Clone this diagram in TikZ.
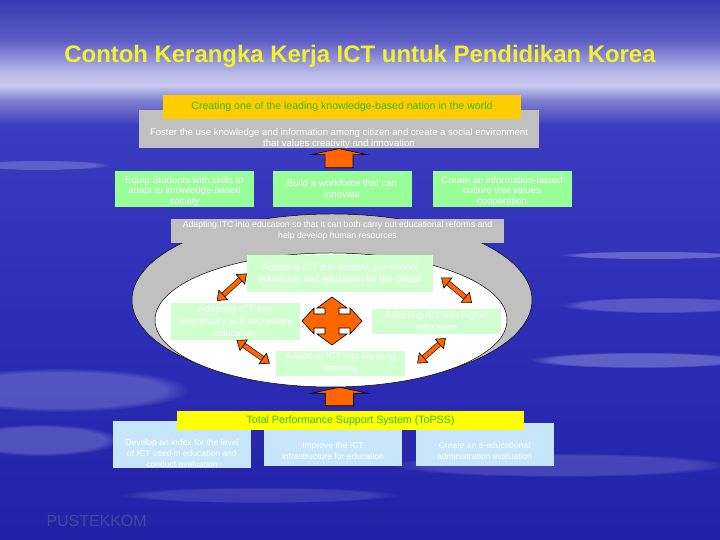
\documentclass[tikz,border=0pt]{standalone}
\usepackage{fontspec}
\setmainfont{Liberation Sans}
\usepackage{xcolor}
\usepackage{tikz}
\usetikzlibrary{calc,arrows.meta,shapes.geometric,fadings}
\definecolor{sun}{HTML}{F2F230}
\definecolor{amber}{HTML}{FFCC00}
\definecolor{lemon}{HTML}{FFFF00}
\definecolor{leaf}{HTML}{2EBE2E}
\definecolor{silver}{HTML}{C0C0C0}
\definecolor{mint}{HTML}{99FF99}
\definecolor{pale}{HTML}{D0FFD0}
\definecolor{ice}{HTML}{C8E6FA}
\definecolor{flame}{HTML}{FF6600}
\definecolor{ink}{HTML}{46469E}
\pgfdeclareverticalshading{sky}{100bp}{rgb(0bp)=(0.13,0.13,0.66); rgb(25bp)=(0.13,0.13,0.66);
  rgb(47bp)=(0.18,0.18,0.72); rgb(63.4bp)=(0.235,0.235,0.75); rgb(65.7bp)=(0.5,0.5,0.82);
  rgb(67.1bp)=(0.79,0.79,0.94); rgb(68.3bp)=(0.72,0.72,0.91); rgb(71.3bp)=(0.36,0.36,0.77);
  rgb(75bp)=(0.227,0.227,0.71); rgb(100bp)=(0.227,0.227,0.71)}
\newcommand\sink[1]{\rule{0pt}{#1bp}}
\newcommand\uparr[2]{%
  \draw[blk] let \p1=(#1), \p2=(#2) in
    (\x1-14pt,\y1) -- (\x1-14pt,\y2-6pt) -- (\x1-28pt,\y2-6pt) -- (\x1,\y2)
    -- (\x1+28pt,\y2-6pt) -- (\x1+14pt,\y2-6pt) -- (\x1+14pt,\y1) -- cycle;}
\tikzset{
  title/.style={text=sun, font=\fontsize{24}{28}\selectfont\bfseries},
  goal/.style={fill=amber, text=leaf, minimum width=358bp, minimum height=24bp, inner sep=0pt, font=\fontsize{10.6}{12}\selectfont},
  band/.style={fill=silver, text=white, align=center, inner sep=0pt, font=\fontsize{9.6}{11}\selectfont},
  aim/.style={fill=mint, text=white, align=center, minimum width=139bp, minimum height=36bp, inner sep=0pt, font=\fontsize{9.6}{11}\selectfont},
  part/.style={fill=pale, text=white, align=center, minimum width=129bp, inner sep=0pt, font=\fontsize{9.6}{12}\selectfont},
  tool/.style={fill=ice, text=white, align=center, minimum width=138bp, minimum height=43bp, inner sep=0pt, font=\fontsize{8.6}{11}\selectfont},
  oval/.style={ellipse, draw=black, line width=0.5pt, inner sep=0pt},
  blk/.style={draw=black, fill=flame, line width=0.6pt, line join=miter},
  dbl/.style={draw=flame, line width=4.2pt,
    {Triangle[length=9pt,width=14pt,fill=flame,color=black,line width=0.6pt]}-{Triangle[length=9pt,width=14pt,fill=flame,color=black,line width=0.6pt]},
    preaction={draw=black, line width=5.4pt, arrows=-, shorten <=8pt, shorten >=8pt}},
  haze/.style={fill=white, path fading=circle with fuzzy edge 20 percent},
}
\begin{document}
\begin{tikzpicture}[x=1bp,y=1bp]
  \useasboundingbox (0,0) rectangle (720,540);
  \fill[shading=sky] (0,0) rectangle (720,540);
  \foreach \x/\y/\a/\b/\o in {650/285/90/4/0.25, 660/235/100/8/0.2, 640/180/110/8/0.25,
    60/150/130/22/0.2, 40/100/80/16/0.2, 560/75/170/12/0.15, 260/45/140/8/0.12, 40/375/70/5/0.2}
    \fill[haze, fill opacity=\o] (\x,\y) ellipse [x radius=\a, y radius=\b];

  \node[title, anchor=base] (head) at (360,477) {Contoh Kerangka Kerja ICT untuk Pendidikan Korea};

  % vision and mission
  \node[band, minimum width=400bp, minimum height=36bp] (foster) at (339,411)
    {\sink{26}Foster the use knowledge and information among citizen and create  a social environment\\that values creativity and innovation};
  \node[goal] (goal) at (342,433) {Creating one of the leading knowledge-based nation in the world};
  \node[aim] (equip) at (184.5,351) {\sink{12}Equip Students with skills to\\adapt to knowledge-based\\society};
  \node[aim] (build) at (342,351) {Build a workforce that can\\innovate};
  \node[aim] (create) at (502,351) {\sink{12}Create an information-based\\culture that values\\cooperation};
  \uparr{[shift={(-3,3)}]build.north}{foster.south}

  % strategies
  \node[oval, fill=silver, minimum width=400bp, minimum height=172bp] (ring) at (332,240) {};
  \node[oval, fill=white, minimum width=352bp, minimum height=134bp] (core) at (331,220) {};
  \node[band, minimum width=333bp, minimum height=24bp, font=\fontsize{8.7}{11}\selectfont] (adapt) at (337.5,309)
    {Adapting ITC into education so that it can both carry out educational reforms and\\help develop human resources};
  \node[part, minimum width=186bp, minimum height=37bp] (special) at (340,266.5)
    {Adapting ICT into special, pre-school\\education and education for the Gifted};
  \node[part, minimum height=37bp] (lft) at (235.5,218.5) {Adapting ICT into\\elementary and secondary\\education};
  \node[part, minimum height=25bp] (rgt) at (436.5,218.5) {Adapting ICT into higher\\education};
  \node[part, minimum height=25bp] (bot) at (340.5,176.5) {Adapting ICT into life-long\\learning};
  \coordinate (hub) at (332,219);
  \draw[blk, shift={(hub)}] (0,24) -- (15,13) -- (7,13) -- (7,7) -- (18,7) -- (18,13) -- (30,0)
    -- (18,-13) -- (18,-7) -- (7,-7) -- (7,-13) -- (15,-13) -- (0,-24) -- (-15,-13)
    -- (-7,-13) -- (-7,-7) -- (-18,-7) -- (-18,-13) -- (-30,0) -- (-18,13) -- (-18,7)
    -- (-7,7) -- (-7,13) -- (-15,13) -- cycle;
  \coordinate (ula) at ([shift={(46,2)}]lft.north west);
  \coordinate (ulb) at (special.west);
  \coordinate (ura) at ([shift={(8,-4)}]special.east);
  \coordinate (urb) at ([shift={(35.5,6)}]rgt.north);
  \coordinate (lla) at ([xshift=66]lft.south west);
  \coordinate (llb) at ([xshift=-6]bot.west);
  \coordinate (lra) at ([xshift=12]bot.east);
  \coordinate (lrb) at ([shift={(74,-4)}]rgt.south west);
  \foreach \s/\t in {ula/ulb, ura/urb, lla/llb, lra/lrb}
    \draw[dbl] (\s) -- (\t);

  % support system
  \node[tool] (index) at (182,95.5) {\sink{25}Develop an index for the level\\of ICT used in education and\\conduct evaluation};
  \node[tool] (infra) at (333,95.5) {\sink{19}Improve the ICT\\infrastructure for education};
  \node[tool] (admin) at (484.5,95.5) {\sink{19}Create an  e-educational\\administration evaluation};
  \node[goal, fill=lemon, minimum width=347bp, minimum height=19bp, font=\fontsize{10.7}{12}\selectfont] (tpss) at (350.5,119.5)
    {Total Performance Support System (ToPSS)};
  \uparr{[shift={(-11,5)}]tpss.north}{core.south}

  \node[text=ink, font=\fontsize{16}{18}\selectfont, anchor=base west] (logo) at (43,13) {PUSTEKKOM};
\end{tikzpicture}
\end{document}
